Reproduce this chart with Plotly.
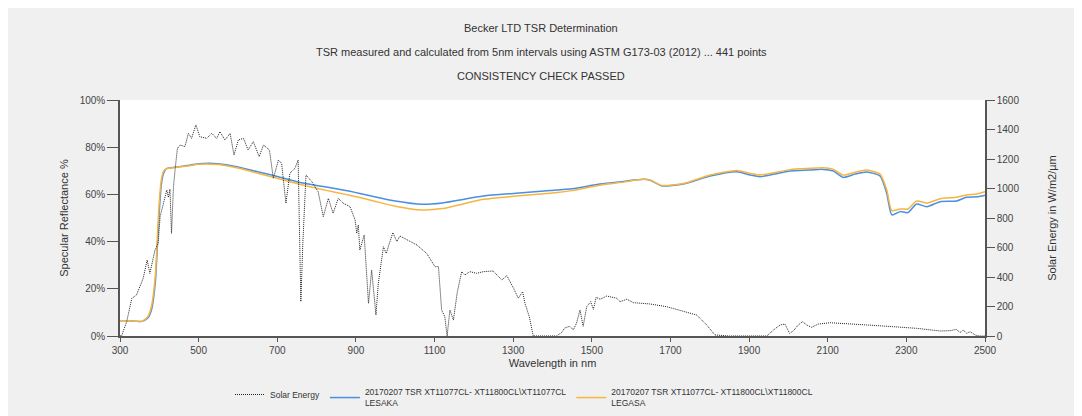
import plotly.graph_objects as go

# ---- Reflectance curves (Specular Reflectance %, left axis) ----
refl_wl = [300, 320, 340, 355, 370, 380, 390, 395, 400, 405, 410, 415, 420, 440, 470,
           500, 550, 600, 650, 700, 750, 800, 850, 885, 910, 950, 1000, 1068, 1120,
           1224, 1300, 1394, 1450, 1521, 1580, 1631, 1650, 1678, 1733, 1801, 1869,
           1903, 1928, 2004, 2050, 2088, 2113, 2139, 2170, 2199, 2233, 2250, 2263,
           2284, 2304, 2326, 2352, 2386, 2428, 2453, 2480, 2500]
lesaka = [6.5, 6.5, 6.3, 6.2, 7.5, 11, 23, 38, 53, 64, 68.5, 70.3, 71, 71.5, 72.2,
          73, 73, 71.6, 69.6, 67.6, 65.4, 63.8, 62.4, 61.3, 60.4, 58.9, 57.2, 55.8, 56.4,
          59.3, 60.4, 61.6, 62.4, 64.4, 65.5, 66.4, 65.9, 63.6, 64.4, 67.8, 69.6,
          68.2, 67.5, 69.9, 70.3, 70.6, 70.0, 67.2, 68.6, 69.5, 67.8, 60.5, 51.3,
          52.7, 52.3, 55.9, 54.8, 56.9, 57.2, 58.8, 59.0, 59.7]
legasa = [6.5, 6.5, 6.3, 6.2, 8.0, 12.5, 26, 42, 57, 66, 69.5, 70.6, 71, 71.4, 72.0,
          72.8, 72.7, 71.2, 69.0, 66.8, 64.6, 62.6, 60.8, 59.6, 58.7, 57.0, 55.0, 53.4, 54.0,
          57.9, 59.2, 60.5, 61.6, 63.9, 65.2, 66.4, 66.0, 63.8, 64.6, 68.2, 70.1,
          68.9, 68.2, 70.5, 71.0, 71.3, 70.7, 68.2, 69.4, 70.3, 68.6, 62.0, 53.1,
          53.8, 53.8, 57.2, 56.3, 58.2, 58.8, 59.7, 60.2, 61.1]

# ---- Solar energy (W/m2/um, right axis) ----
solar_wl = [300, 304, 317, 330, 342, 351, 359, 369, 376, 389, 397, 402, 409, 414, 419,
            423, 427, 431, 436, 440, 446, 453, 465, 474, 482, 493, 503, 521, 533, 546,
            554, 567, 580, 590, 601, 614, 626, 639, 654, 665, 680, 690, 703, 711, 722,
            732, 745, 753, 760, 765, 773, 788, 804, 817, 830, 842, 855, 868, 885, 898,
            902, 906, 910, 921, 932, 940, 951, 957, 970, 977, 994, 1004, 1012, 1055,
            1080, 1101, 1110, 1118, 1126, 1132, 1139, 1148, 1158, 1169, 1177, 1190,
            1207, 1224, 1249, 1271, 1284, 1301, 1313, 1324, 1330, 1341, 1351, 1380,
            1410, 1423, 1431, 1444, 1453, 1461, 1470, 1478, 1487, 1497, 1504, 1511,
            1521, 1538, 1546, 1563, 1572, 1589, 1606, 1648, 1690, 1733, 1767, 1792,
            1813, 1850, 1900, 1945, 1962, 1979, 1991, 2003, 2013, 2025, 2036, 2046,
            2059, 2076, 2106, 2140, 2199, 2267, 2326, 2386, 2411, 2428, 2436, 2445,
            2453, 2462, 2475, 2486, 2500]
solar = [0, 0, 97, 255, 278, 334, 391, 515, 425, 583, 628, 809, 877, 944, 990,
         940, 995, 696, 1012, 1125, 1272, 1295, 1284, 1374, 1340, 1431, 1351, 1340, 1374, 1340,
         1385, 1329, 1374, 1227, 1329, 1340, 1261, 1318, 1216, 1295, 1261, 1069, 1193, 1171, 900,
         1103, 1137, 1193, 233, 628, 1092, 1046, 978, 809, 933, 832, 933, 900, 877, 786,
         696, 753, 583, 685, 221, 447, 142, 357, 605, 560, 701, 640, 678, 617,
         560, 470, 470, 176, 131, 0, 176, 108, 300, 436, 414, 436,
         425, 436, 441, 380, 409, 323, 256, 300, 221, 131, 0, 0,
         0, 23, 54, 66, 41, 86, 176, 66, 199, 233, 181, 262,
         249, 271, 267, 256, 233, 249, 226, 217, 199, 165, 142, 75,
         7, 0, 0, 0, 41, 75, 81, 18, 36, 75, 97, 75,
         59, 81, 90, 86, 75, 63, 52, 34, 36, 45, 23, 41,
         18, 29, 7, 0, 0]

x_ticks = list(range(300, 2501, 200))
left_ticks = [0, 20, 40, 60, 80, 100]
left_labels = ["0%", "20%", "40%", "60%", "80%", "100%"]
right_ticks = list(range(0, 1601, 200))

title_lines = ["Becker LTD TSR Determination",
               "TSR measured and calculated from 5nm intervals using ASTM G173-03 (2012) ... 441 points",
               "CONSISTENCY CHECK PASSED"]

FONT = "Liberation Sans, Arial, sans-serif"
AXIS = "#555555"
TXT = "#333333"

fig = go.Figure()
fig.add_trace(go.Scatter(x=solar_wl, y=solar, name="Solar Energy", yaxis="y2",
                         mode="lines", line=dict(color="#222222", width=1, dash="1px,1px")))
fig.add_trace(go.Scatter(x=refl_wl, y=lesaka, name="20170207 TSR XT11077CL- XT11800CL\\XT11077CL<br>LESAKA",
                         mode="lines", line=dict(color="#4a8fe0", width=1.5, shape="spline", smoothing=0.6)))
fig.add_trace(go.Scatter(x=refl_wl, y=legasa, name="20170207 TSR XT11077CL- XT11800CL\\XT11800CL<br>LEGASA",
                         mode="lines", line=dict(color="#f5b540", width=1.5, shape="spline", smoothing=0.6)))

# The page body adds an 8px offset; layout numbers below are in page pixels.
OFF = 8
W, H = 1082, 416
plot_l, plot_r, plot_t, plot_b = 120, 985, 100, 336
ml, mt = plot_l - OFF, plot_t - OFF
pw, ph = plot_r - plot_l, plot_b - plot_t
mr, mb = W - ml - pw, H - mt - ph

def px_x(px):
    return (px - plot_l) / pw

def px_y(py):
    return (plot_b - py) / ph

annotations = []
for t, yy in zip(title_lines, [28, 52, 76]):
    annotations.append(dict(text=t, xref="paper", yref="paper", x=px_x(541), y=px_y(yy),
                            showarrow=False, xanchor="center", yanchor="middle",
                            font=dict(family=FONT, size=11, color=TXT)))

fig.update_layout(
    width=W, height=H,
    margin=dict(l=ml, r=mr, t=mt, b=mb, pad=0, autoexpand=False),
    paper_bgcolor="#f0f0f0", plot_bgcolor="white",
    font=dict(family=FONT, size=10, color=TXT),
    showlegend=True,
    legend=dict(orientation="h", x=px_x(230), y=px_y(380), xanchor="left", yanchor="top",
                bgcolor="rgba(0,0,0,0)", font=dict(family=FONT, size=8.5, color=TXT),
                traceorder="normal"),
    xaxis=dict(range=[300, 2500], tickvals=x_ticks, ticks="outside", ticklen=4, tickcolor=AXIS,
               showline=True, linecolor=AXIS, linewidth=1.5, showgrid=False, zeroline=False,
               automargin=False,
               title=dict(text="Wavelength in nm", font=dict(family=FONT, size=11, color=TXT), standoff=5),
               tickfont=dict(family=FONT, size=10, color="#444444")),
    yaxis=dict(range=[0, 100], tickvals=left_ticks, ticktext=left_labels, ticks="outside", ticklen=11,
               tickcolor=AXIS, showline=True, linecolor=AXIS, linewidth=1.5, showgrid=False,
               zeroline=False, automargin=False,
               title=dict(text="Specular Reflectance %", font=dict(family=FONT, size=11, color=TXT), standoff=9),
               tickfont=dict(family=FONT, size=10, color="#444444")),
    yaxis2=dict(range=[0, 1600], tickvals=right_ticks, overlaying="y", side="right", ticks="outside",
                ticklen=8, tickcolor=AXIS, showline=True, linecolor=AXIS, linewidth=1.5,
                showgrid=False, zeroline=False, automargin=False,
                title=dict(text="Solar Energy in W/m2/µm", font=dict(family=FONT, size=11, color=TXT), standoff=30),
                tickfont=dict(family=FONT, size=10, color="#444444")),
    annotations=annotations,
)

fig.write_html("out.html")
